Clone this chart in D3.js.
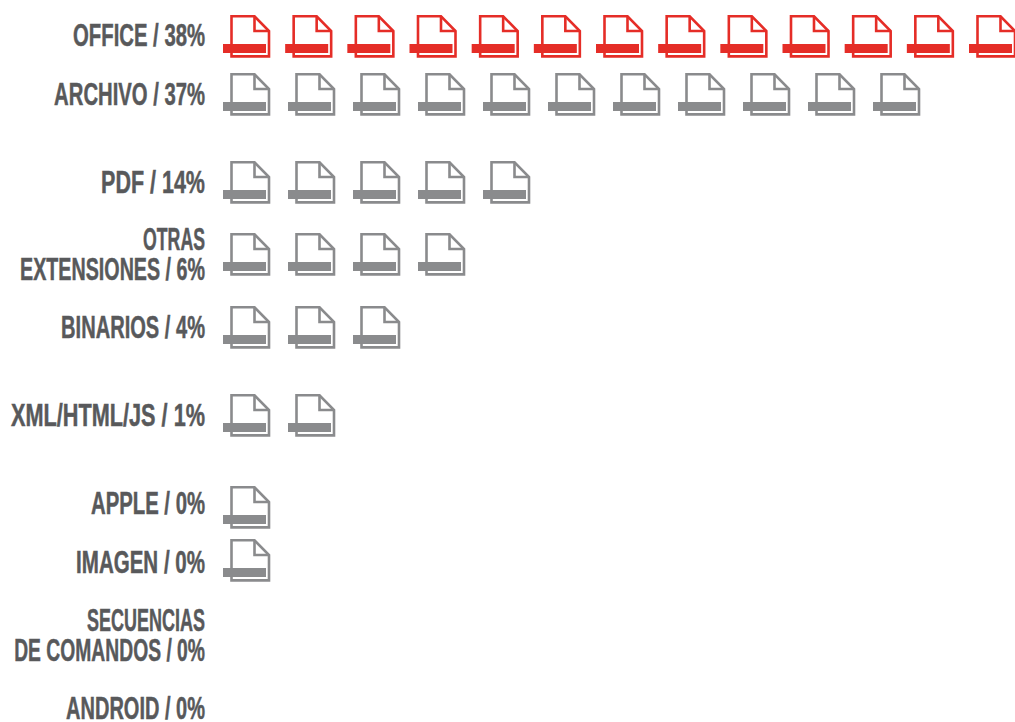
<!DOCTYPE html>
<html>
<head>
<meta charset="utf-8">
<script src="https://cdn.jsdelivr.net/npm/d3@7"></script>
<style>
  html, body { margin: 0; padding: 0; background: #fff; overflow: hidden; }
  svg { display: block; }
  text { font-family: "Liberation Sans", sans-serif; font-weight: 700; fill: #58595b; stroke: #58595b; stroke-width: 0.5px; }
</style>
</head>
<body>
<svg id="chart"></svg>
<script>
const categories = ["OFFICE", "ARCHIVO", "PDF", "OTRAS EXTENSIONES", "BINARIOS", "XML/HTML/JS", "APPLE", "IMAGEN", "SECUENCIAS DE COMANDOS", "ANDROID"];
const percents = [38, 37, 14, 6, 4, 1, 0, 0, 0, 0];
const iconCounts = [13, 11, 5, 4, 3, 2, 1, 1, 0, 0];
const labelLines = [
  ["OFFICE / 38%"],
  ["ARCHIVO / 37%"],
  ["PDF / 14%"],
  ["OTRAS", "EXTENSIONES / 6%"],
  ["BINARIOS / 4%"],
  ["XML/HTML/JS / 1%"],
  ["APPLE / 0%"],
  ["IMAGEN / 0%"],
  ["SECUENCIAS", "DE COMANDOS / 0%"],
  ["ANDROID / 0%"]
];

const width = 1015;
const height = 722;
const labelRight = 205;
const red = "#e52d27";
const grey = "#8a8b8d";

// rows are not evenly spaced in the original
const rowCenter = d3.scaleOrdinal(categories, [35, 94, 182, 254, 327, 415, 503, 562, 635, 708]);
const iconTop = d3.scaleOrdinal(categories, [15, 73, 161, 233, 306, 394, 486, 539, 0, 0]);
// drawn width of each label line, no condensed font is installed so each is squeezed to fit
const lineWidths = [[132], [151], [104], [62, 185], [144], [194], [114], [129], [118, 191], [139]];
const xRed = d3.scaleLinear().domain([0, 12]).range([223, 969]);
const xGrey = d3.scaleLinear().domain([0, 10]).range([223, 873]);

const svg = d3.select("#chart").attr("width", width).attr("height", height);

const rows = svg.selectAll("g.row")
  .data(categories)
  .enter()
  .append("g")
  .attr("class", "row")
  .attr("transform", d => "translate(0," + rowCenter(d) + ")");

rows.each(function(d, i) {
  const lines = labelLines[i];
  lines.forEach((line, k) => {
    const g = d3.select(this).append("g");
    const label = g.append("text")
      .attr("x", 0)
      .attr("y", (k - (lines.length - 1) / 2) * 30 + 10.5)
      .attr("text-anchor", "end")
      .style("font-size", "32px")
      .text(line);
    const squeeze = lineWidths[i][k] / label.node().getComputedTextLength();
    g.attr("transform", "translate(" + labelRight + ",0) scale(" + squeeze + ",1)");
  });
});

// one file icon, relative to the bar's left edge and the top of the sheet
function drawIcon(g, color) {
  g.append("path")
    .attr("d", "M8.5,1.3 H31.5 L46,16 V41.4 H8.5 Z")
    .attr("fill", "#fff")
    .attr("stroke", color)
    .attr("stroke-width", 2.6);
  g.append("path")
    .attr("d", "M31.5,1.3 V16 H46")
    .attr("fill", "none")
    .attr("stroke", color)
    .attr("stroke-width", 2.6);
  g.append("rect")
    .attr("x", 0)
    .attr("y", 29)
    .attr("width", 43)
    .attr("height", 9)
    .attr("fill", color);
}

rows.each(function(d, i) {
  const x = i === 0 ? xRed : xGrey;
  const color = i === 0 ? red : grey;
  d3.select(this).selectAll("g.icon")
    .data(d3.range(iconCounts[i]))
    .enter()
    .append("g")
    .attr("class", "icon")
    .attr("transform", n => "translate(" + x(n) + "," + (iconTop(d) - rowCenter(d)) + ")")
    .each(function() { drawIcon(d3.select(this), color); });
});
</script>
</body>
</html>
